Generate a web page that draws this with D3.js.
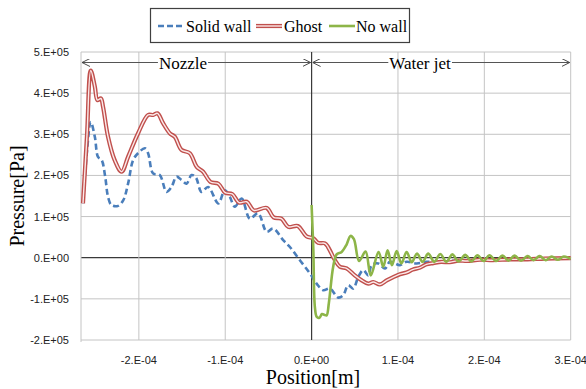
<!DOCTYPE html>
<html>
<head>
<meta charset="utf-8">
<script src="https://cdn.jsdelivr.net/npm/d3@7"></script>
<style>
  body { margin: 0; background: #fff; }
  svg { display: block; }
</style>
</head>
<body>
<svg id="main-chart"></svg>
<script>
// positions in 1e-4 m, pressures in 1e5 Pa
const solidWall = [
  [-2.647, 1.32], [-2.60, 2.6], [-2.557, 3.30], [-2.51, 2.94], [-2.473, 2.45], [-2.43, 2.37],
  [-2.39, 1.97], [-2.357, 1.48], [-2.318, 1.28], [-2.24, 1.26], [-2.18, 1.40], [-2.125, 1.80],
  [-2.067, 2.37], [-2.01, 2.54], [-1.93, 2.66], [-1.893, 2.54], [-1.835, 2.05], [-1.758, 2.01],
  [-1.68, 1.60], [-1.622, 1.72], [-1.564, 1.97], [-1.506, 1.89], [-1.448, 1.80], [-1.39, 2.01],
  [-1.34, 1.95], [-1.275, 1.60], [-1.198, 1.72], [-1.08, 1.32], [-1.005, 1.64], [-0.947, 1.48],
  [-0.889, 1.24], [-0.81, 1.44], [-0.715, 0.95], [-0.62, 1.08], [-0.52, 0.63], [-0.445, 0.71],
  [-0.329, 0.43], [-0.251, 0.26], [-0.136, -0.06], [-0.02, -0.38], [0.058, -0.63], [0.134, -0.79],
  [0.212, -0.75], [0.308, -0.97], [0.366, -0.91], [0.424, -0.67], [0.482, -0.75], [0.54, -0.47],
  [0.598, -0.30], [0.656, -0.43], [0.695, -0.18], [0.772, -0.14], [0.85, -0.26], [0.907, -0.10],
  [1.023, -0.18], [1.10, -0.10], [1.217, -0.14], [1.33, -0.10], [1.45, -0.11], [1.6, -0.08],
  [1.8, -0.07], [2.0, -0.05], [2.3, -0.04], [2.6, -0.03], [3.0, -0.02]
];
const ghost = [
  [-2.647, 1.32], [-2.60, 3.0], [-2.557, 4.55], [-2.51, 4.16], [-2.48, 3.83], [-2.44, 3.87],
  [-2.415, 3.67], [-2.357, 2.94], [-2.28, 2.37], [-2.20, 2.09], [-2.125, 2.45], [-2.01, 3.02],
  [-1.893, 3.47], [-1.835, 3.47], [-1.785, 3.51], [-1.72, 3.27], [-1.64, 3.02], [-1.584, 2.94],
  [-1.506, 2.62], [-1.41, 2.54], [-1.33, 2.21], [-1.256, 2.09], [-1.17, 1.84], [-1.08, 1.80],
  [-1.0, 1.58], [-0.92, 1.55], [-0.84, 1.34], [-0.75, 1.36], [-0.67, 1.15], [-0.52, 1.21],
  [-0.44, 0.98], [-0.35, 0.95], [-0.27, 0.75], [-0.16, 0.77], [-0.06, 0.52], [0.02, 0.47],
  [0.077, 0.36], [0.154, 0.35], [0.19, 0.26], [0.27, -0.06], [0.328, -0.22], [0.405, -0.26],
  [0.50, -0.43], [0.58, -0.55], [0.656, -0.63], [0.714, -0.59], [0.79, -0.65], [0.87, -0.55],
  [0.946, -0.47], [1.023, -0.40], [1.10, -0.36], [1.17, -0.29], [1.256, -0.24], [1.33, -0.16],
  [1.41, -0.13], [1.5, -0.10], [1.6, -0.11], [1.7, -0.07], [1.8, -0.08], [1.95, -0.05],
  [2.1, -0.06], [2.3, -0.04], [2.5, -0.04], [2.7, -0.02], [3.0, -0.01]
];
const noWall = [
  [0.0, 1.28], [0.02, 0.2], [0.038, -1.2], [0.06, -1.44], [0.09, -1.46], [0.12, -1.37],
  [0.15, -1.39], [0.174, -1.40], [0.2, -1.1], [0.25, -0.22], [0.29, 0.08], [0.348, 0.14],
  [0.405, 0.32], [0.45, 0.53], [0.49, 0.45], [0.55, -0.08], [0.625, 0.15], [0.685, -0.43],
  [0.775, 0.14], [0.83, -0.22], [0.88, 0.18], [0.93, -0.18], [0.985, 0.16], [1.04, -0.14],
  [1.10, 0.14], [1.16, -0.11], [1.22, 0.10], [1.285, -0.10], [1.35, 0.10], [1.42, -0.10],
  [1.49, 0.09], [1.56, -0.10], [1.63, 0.08], [1.70, -0.09], [1.78, 0.07], [1.85, -0.09],
  [1.92, 0.06], [1.99, -0.08], [2.06, 0.06], [2.135, -0.08], [2.21, 0.05], [2.28, -0.07],
  [2.35, 0.05], [2.425, -0.07], [2.50, 0.04], [2.57, -0.06], [2.64, 0.04], [2.71, -0.06],
  [2.78, 0.03], [2.85, -0.05], [2.92, 0.03], [3.0, -0.03]
];

const xTicks = [-2, -1, 0, 1, 2, 3];
const xTickLabels = ["-2.E-04", "-1.E-04", "0.E+00", "1.E-04", "2.E-04", "3.E-04"];
const yTicks = [-2, -1, 0, 1, 2, 3, 4, 5];
const yTickLabels = ["-2.E+05", "-1.E+05", "0.E+00", "1.E+05", "2.E+05", "3.E+05", "4.E+05", "5.E+05"];
const seriesNames = ["Solid wall", "Ghost", "No wall"];

const width = 586, height = 389;
const margin = {top: 52, right: 15.3, bottom: 49, left: 81};

const svg = d3.select("#main-chart")
    .attr("width", width)
    .attr("height", height);

const x = d3.scaleLinear().domain([-2.67, 3]).range([margin.left, width - margin.right]);
const y = d3.scaleLinear().domain([-2, 5]).range([height - margin.bottom, margin.top]);

const grid = svg.append("g");
grid.selectAll("line.h")
  .data(yTicks)
  .join("line")
    .attr("x1", x.range()[0]).attr("x2", x.range()[1])
    .attr("y1", d => y(d)).attr("y2", d => y(d))
    .attr("stroke", d => d === 0 ? "#3a3a3a" : "#c4c4c4")
    .attr("stroke-width", d => d === 0 ? 1.2 : 1);
grid.selectAll("line.v")
  .data(xTicks)
  .join("line")
    .attr("y1", y.range()[0]).attr("y2", y.range()[1])
    .attr("x1", d => x(d)).attr("x2", d => x(d))
    .attr("stroke", d => d === 0 ? "#3a3a3a" : "#c4c4c4")
    .attr("stroke-width", d => d === 0 ? 1.2 : 1);
grid.append("line")
    .attr("x1", x.range()[0]).attr("x2", x.range()[0])
    .attr("y1", y.range()[0] + 2).attr("y2", y.range()[1])
    .attr("stroke", "#c4c4c4");

// tick labels
svg.append("g")
    .attr("font-family", "Liberation Sans, Arial, sans-serif")
    .attr("font-size", 11)
    .attr("fill", "#222")
    .attr("text-anchor", "end")
  .selectAll("text")
  .data(yTicks)
  .join("text")
    .attr("x", 69)
    .attr("y", d => y(d) + 4)
    .text((d, i) => yTickLabels[i]);

svg.append("g")
    .attr("font-family", "Liberation Sans, Arial, sans-serif")
    .attr("font-size", 11)
    .attr("fill", "#222")
    .attr("text-anchor", "middle")
  .selectAll("text")
  .data(xTicks)
  .join("text")
    .attr("x", d => x(d))
    .attr("y", 364)
    .text((d, i) => xTickLabels[i]);

// axis titles
svg.append("text")
    .attr("font-family", "Liberation Serif, Times New Roman, serif")
    .attr("font-size", 20)
    .attr("text-anchor", "middle")
    .attr("transform", `translate(24,${(y.range()[0] + y.range()[1]) / 2}) rotate(-90)`)
    .text("Pressure[Pa]");
svg.append("text")
    .attr("font-family", "Liberation Serif, Times New Roman, serif")
    .attr("font-size", 20)
    .attr("text-anchor", "middle")
    .attr("x", 313)
    .attr("y", 384)
    .text("Position[m]");

// region arrows
const defs = svg.append("defs");
defs.append("marker")
    .attr("id", "arr")
    .attr("viewBox", "0 0 10 10")
    .attr("refX", 10).attr("refY", 5)
    .attr("markerWidth", 8).attr("markerHeight", 8)
    .attr("markerUnits", "userSpaceOnUse")
    .attr("orient", "auto-start-reverse")
  .append("path")
    .attr("d", "M0,0L10,5L0,10")
    .attr("fill", "none")
    .attr("stroke", "#444")
    .attr("stroke-width", 1.2);

const regions = [
  {name: "Nozzle", from: -2.67, to: 0, cx: 183},
  {name: "Water jet", from: 0, to: 3, cx: 420}
];
const ay = 62.5;
const reg = svg.append("g");
regions.forEach(r => {
  reg.append("line")
      .attr("x1", x(r.from) + 1).attr("x2", x(r.to) - 1)
      .attr("y1", ay).attr("y2", ay)
      .attr("stroke", "#555").attr("stroke-width", 1)
      .attr("marker-start", "url(#arr)")
      .attr("marker-end", "url(#arr)");
  const t = reg.append("text")
      .attr("font-family", "Liberation Serif, Times New Roman, serif")
      .attr("font-size", 17)
      .attr("text-anchor", "middle")
      .attr("x", r.cx).attr("y", ay + 6)
      .text(r.name);
  const bb = t.node().getBBox();
  reg.insert("rect", () => t.node())
      .attr("x", bb.x - 1).attr("y", ay - 3).attr("width", bb.width + 2).attr("height", 6)
      .attr("fill", "#fff");
});

// lines
const line = d3.line()
    .x(d => x(d[0]))
    .y(d => y(d[1]))
    .curve(d3.curveCatmullRom.alpha(0.5));

const plot = svg.append("g");
plot.append("path")
    .attr("d", line(solidWall))
    .attr("fill", "none")
    .attr("stroke", "#4a7ebb")
    .attr("stroke-width", 2.6)
    .attr("stroke-dasharray", "6,3.5");
plot.append("path")
    .attr("d", line(ghost))
    .attr("fill", "none")
    .attr("stroke", "#c0504d")
    .attr("stroke-width", 4.2);
plot.append("path")
    .attr("d", line(ghost))
    .attr("fill", "none")
    .attr("stroke", "#fbe9e9")
    .attr("stroke-width", 1.4);
plot.append("path")
    .attr("d", line(noWall))
    .attr("fill", "none")
    .attr("stroke", "#8db548")
    .attr("stroke-width", 2.6);

// legend
const lg = svg.append("g");
lg.append("rect")
    .attr("x", 150.5).attr("y", 8.5).attr("width", 259).attr("height", 34)
    .attr("fill", "#fff").attr("stroke", "#404040").attr("stroke-width", 1.2);
const items = [
  {x0: 158, tx: 186, color: "#4a7ebb", dash: "6,3"},
  {x0: 256, tx: 284, color: "#c0504d", dbl: true},
  {x0: 329, tx: 356, color: "#8db548"}
];
items.forEach((it, i) => {
  const ly = 26;
  lg.append("line")
      .attr("x1", it.x0).attr("x2", it.x0 + 26).attr("y1", ly).attr("y2", ly)
      .attr("stroke", it.color)
      .attr("stroke-width", it.dbl ? 4.2 : 2.6)
      .attr("stroke-dasharray", it.dash || null);
  if (it.dbl) {
    lg.append("line")
        .attr("x1", it.x0).attr("x2", it.x0 + 26).attr("y1", ly).attr("y2", ly)
        .attr("stroke", "#fbe9e9").attr("stroke-width", 1.4);
  }
  lg.append("text")
      .attr("font-family", "Liberation Serif, Times New Roman, serif")
      .attr("font-size", 16)
      .attr("x", it.tx).attr("y", ly + 5.5)
      .text(seriesNames[i]);
});
</script>
</body>
</html>
